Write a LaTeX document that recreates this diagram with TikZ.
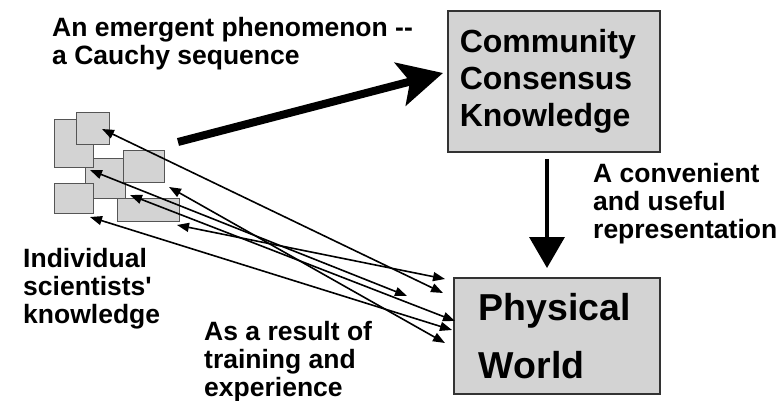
\documentclass[tikz,border=0pt]{standalone}
\usepackage{fontspec}
\newfontfamily\arl{Liberation Sans}
\usetikzlibrary{arrows.meta}
\definecolor{boxgray}{RGB}{211,211,211}
\definecolor{sedge}{RGB}{85,85,85}
\begin{document}
\begin{tikzpicture}[x=1pt,y=-1pt,
  bigbox/.style={draw=black!80, line width=1.6pt, fill=boxgray, anchor=north west, inner ysep=0pt, align=left},
  sbox/.style={draw=sedge, line width=1.2pt, fill=boxgray, anchor=north west, inner sep=0pt},
  lbl/.style={anchor=north west, inner sep=0pt, align=left, font=\arl\bfseries\fontsize{26.5}{28}\selectfont},
  link/.style={{Triangle[length=12pt,width=9pt]}-{Triangle[length=12pt,width=9pt]}, line width=1.6pt},
]
\useasboundingbox (0,0) rectangle (782,401);

% big boxes
\node[bigbox, minimum width=212pt, minimum height=141pt, text width=188pt, inner xsep=12pt,
  font=\arl\bfseries\fontsize{32}{37}\selectfont] (cck) at (447,10) {Community\\Consensus\\Knowledge};
\node[bigbox, minimum width=206pt, minimum height=116pt, text width=156pt, inner xsep=25pt,
  font=\arl\bfseries\fontsize{37.5}{58}\selectfont] (pw) at (453,277) {Physical\\World};

% small boxes (individual knowledge)
\node[sbox, minimum width=40pt, minimum height=40pt] (sC) at (85,158) {};
\node[sbox, minimum width=41pt, minimum height=32pt] (sD) at (123,150) {};
\node[sbox, minimum width=62pt, minimum height=23pt] (sF) at (117,198) {};
\node[sbox, minimum width=39pt, minimum height=48pt] (sA) at (54,119) {};
\node[sbox, minimum width=33pt, minimum height=32pt] (sB) at (76,112) {};
\node[sbox, minimum width=39pt, minimum height=30pt] (sE) at (54,183) {};

% labels
\node[lbl] (t1) at (52,17) {An emergent phenomenon --\\a Cauchy sequence};
\node[lbl] (t2) at (23,248) {Individual\\scientists'\\knowledge};
\node[lbl] (t3) at (204,321) {As a result of\\training and\\experience};
\node[lbl] (t4) at (593,163) {A convenient\\and useful\\representation};

% end points of links
\coordinate (l1) at (102,129);
\coordinate (l2) at (90,170);
\coordinate (l3) at (130,195);
\coordinate (l4) at (169,187);
\coordinate (l5) at (90,217);
\coordinate (l6) at (177,225);
\coordinate (r1) at (445,279);
\coordinate (r2) at (443,293);
\coordinate (r3) at (407,296);
\coordinate (r4) at (455,321);
\coordinate (r5) at (452,330);
\coordinate (r6) at (445,343);

\draw[link] (l1) -- (r2);
\draw[link] (l2) -- (r3);
\draw[link] (l3) -- (r4);
\draw[link] (l4) -- (r6);
\draw[link] (l5) -- (r5);
\draw[link] (l6) -- (r1);

% thick emergent arrow
\coordinate (e1) at (178,142);
\coordinate (e2) at (443,73);
\draw[line width=8pt, -{Stealth[length=44pt,width=44pt,inset=10pt]}] (e1) -- (e2);

% representation arrow
\coordinate (v1) at (547,159);
\coordinate (v2) at (547,268);
\draw[line width=3.5pt, -{Triangle[length=31pt,width=35pt]}] (v1) -- (v2);
\end{tikzpicture}
\end{document}
